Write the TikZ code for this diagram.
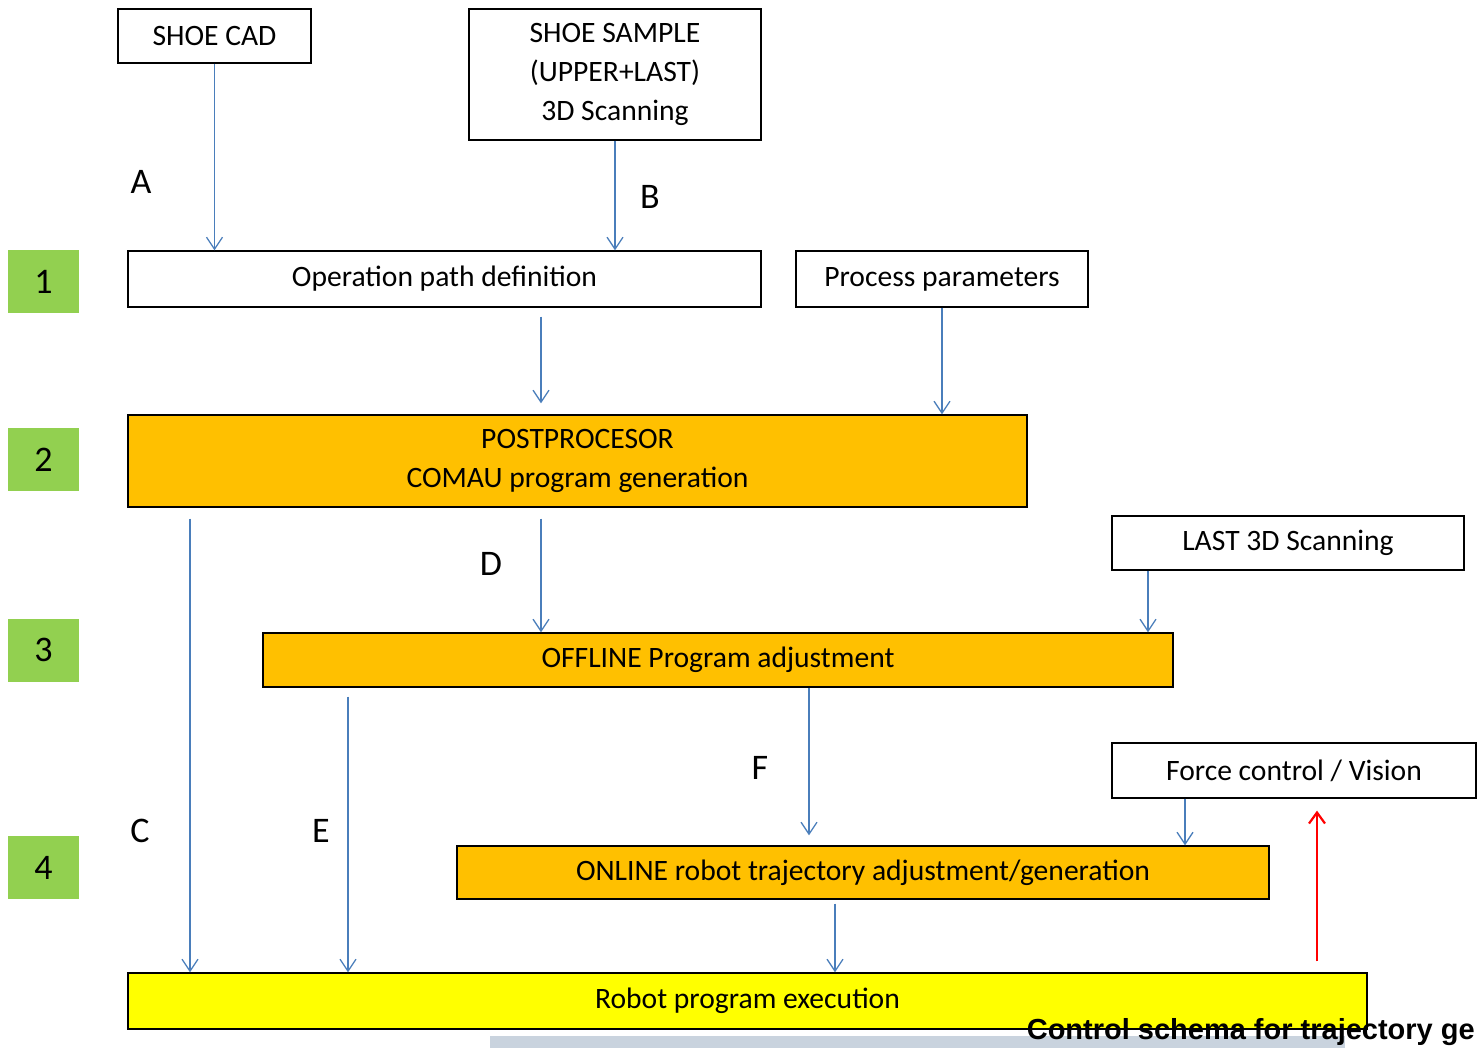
\documentclass[tikz,border=0pt]{standalone}
\usepackage{fontspec}
\setmainfont{Carlito}
\newfontfamily\capfont{Liberation Sans}
\usetikzlibrary{arrows.meta,calc}
\definecolor{stagegreen}{HTML}{92D050}
\definecolor{boxorange}{HTML}{FFC000}
\definecolor{boxyellow}{HTML}{FFFF00}
\definecolor{flowblue}{HTML}{4A7EBB}
\definecolor{stripgrey}{HTML}{C9D3DE}
\tikzset{
  plainbox/.style={draw=black, line width=1.3pt, fill=white, inner sep=0pt, align=center,
    font=\fontsize{29.6}{38.6}\selectfont},
  orangebox/.style={plainbox, fill=boxorange},
  yellowbox/.style={plainbox, fill=boxyellow},
  stage/.style={fill=stagegreen, minimum width=71pt, minimum height=63pt, inner sep=0pt,
    font=\fontsize{36}{36}\selectfont},
  letter/.style={font=\fontsize{36}{36}\selectfont, inner sep=0pt},
  flow/.style={draw=flowblue, line width=1.3pt, -{Straight Barb[length=12pt,width=16pt,line width=1.3pt]}},
  feedback/.style={draw=red, line width=2.2pt, -{Straight Barb[length=11pt,width=16pt,line width=2.2pt]}}
}
\begin{document}
\begin{tikzpicture}[x=1pt,y=-1pt]
\clip (0,0) rectangle (1478,1048);
\fill[white] (0,0) rectangle (1478,1048);
% stage numbers
\foreach \n/\y in {1/281.5,2/459.5,3/650,4/867.5}
  \node[stage] (stage\n) at (43.5,\y) {\n};
% boxes
\node[plainbox, minimum width=193pt, minimum height=54pt] (cad) at (214.5,36) {SHOE CAD};
\node[plainbox, minimum width=292pt, minimum height=131pt] (sample) at (615,74.5) {SHOE SAMPLE\\(UPPER+LAST)\\3D Scanning};
\node[plainbox, minimum width=633pt, minimum height=56pt] (opdef) at (444.5,279) {Operation path definition};
\node[plainbox, minimum width=292pt, minimum height=56pt] (params) at (942,279) {Process parameters};
\node[orangebox, minimum width=899pt, minimum height=92pt] (post) at (577.5,461) {POSTPROCESOR\\COMAU program generation};
\node[plainbox, minimum width=352pt, minimum height=54pt] (last) at (1288,543) {LAST 3D Scanning};
\node[orangebox, minimum width=910pt, minimum height=54pt] (offline) at (718,660) {OFFLINE Program adjustment};
\node[plainbox, minimum width=364pt, minimum height=55pt] (force) at (1294,770.5) {Force control / Vision};
\node[orangebox, minimum width=812pt, minimum height=53pt] (online) at (863,872.5) {ONLINE robot trajectory adjustment/generation};
\node[yellowbox, minimum width=1239pt, minimum height=56pt] (robot) at (747.5,1001) {Robot program execution};
% path letters
\node[letter] (lblA) at (141,182) {A};
\node[letter] (lblB) at (650,197) {B};
\node[letter] (lblC) at (140,831) {C};
\node[letter] (lblD) at (491,564) {D};
\node[letter] (lblE) at (321,831) {E};
\node[letter] (lblF) at (760,768) {F};
% columns of the connectors
\coordinate (colC) at (190,0);
\coordinate (colD) at (541,0);
\coordinate (colE) at (348,0);
\coordinate (colF) at (809,0);
\coordinate (colLast) at (1148,0);
\coordinate (colForce) at (1185,0);
\coordinate (colOnline) at (835,0);
\coordinate (colRed) at (1317,0);
% connectors
\draw[flow] (cad.south) -- (cad.south |- opdef.north);
\draw[flow] (sample.south) -- (sample.south |- opdef.north);
\draw[flow] ($(opdef.south -| colD)+(0,9)$) -- ($(post.north -| colD)+(0,-11)$);
\draw[flow] (params.south) -- (params.south |- post.north);
\draw[flow] ($(post.south -| colC)+(0,11)$) -- (robot.north -| colC);
\draw[flow] ($(post.south -| colD)+(0,11)$) -- (offline.north -| colD);
\draw[flow] (last.south -| colLast) -- (offline.north -| colLast);
\draw[flow] ($(offline.south -| colE)+(0,9)$) -- (robot.north -| colE);
\draw[flow] (offline.south -| colF) -- ($(online.north -| colF)+(0,-10)$);
\draw[flow] (force.south -| colForce) -- (online.north -| colForce);
\draw[flow] ($(online.south -| colOnline)+(0,4)$) -- (robot.north -| colOnline);
\draw[feedback] ($(robot.north -| colRed)+(0,-11)$) -- ($(force.south -| colRed)+(0,12)$);
% caption strip at the foot
\fill[stripgrey] (490,1036) rectangle (1345,1048);
\node[anchor=base east, inner sep=0pt, font=\capfont\bfseries\fontsize{29}{29}\selectfont] (caption) at (1475,1039) {Control schema for trajectory ge};
\end{tikzpicture}
\end{document}
